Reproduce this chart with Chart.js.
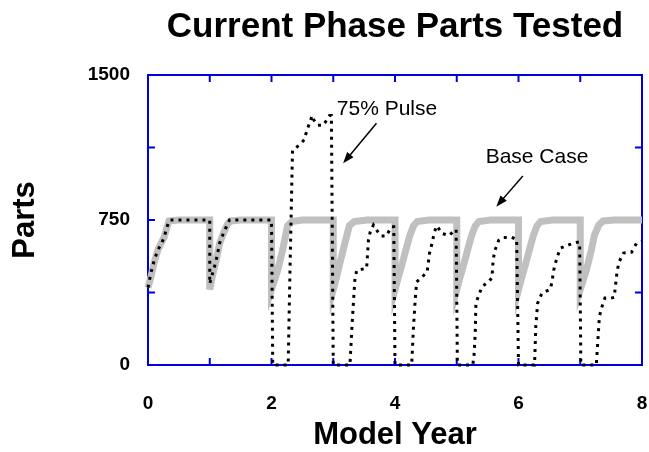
<!DOCTYPE html>
<html>
<head>
<meta charset="utf-8">
<script src="https://cdn.jsdelivr.net/npm/chart.js@4.4.0/dist/chart.umd.min.js"></script>
<style>
body { margin: 0; background: #fff; }
#chart { display: block; }
</style>
</head>
<body>
<canvas id="chart" width="649" height="452"></canvas>
<script>
// Base Case (grey band)
const baseYears = [
  0, 0.05, 0.1, 0.16, 0.22, 0.26, 0.3, 0.34, 0.5, 1,
  1, 1.05, 1.1, 1.16, 1.22, 1.29, 1.34, 1.5, 2,
  2, 2.05, 2.1, 2.18, 2.26, 2.33, 2.5, 3,
  3, 3.05, 3.1, 3.18, 3.26, 3.34, 3.55, 4,
  4, 4.05, 4.1, 4.18, 4.24, 4.3, 4.36, 4.55, 5,
  5, 5.05, 5.1, 5.18, 5.24, 5.3, 5.36, 5.55, 6,
  6, 6.05, 6.1, 6.18, 6.24, 6.3, 6.36, 6.55, 7,
  7, 7.05, 7.1, 7.18, 7.23, 7.3, 7.37, 7.55, 8
];
const baseParts = [
  400, 460, 530, 595, 635, 660, 705, 745, 750, 750,
  390, 470, 535, 630, 680, 730, 745, 750, 750,
  390, 440, 490, 595, 720, 742, 750, 750,
  390, 450, 517, 620, 720, 742, 750, 750,
  390, 450, 505, 600, 670, 720, 742, 750, 750,
  390, 450, 505, 600, 670, 720, 742, 750, 750,
  390, 450, 505, 600, 670, 720, 742, 750, 750,
  390, 440, 491, 595, 672, 724, 745, 750, 750
];

// 75% Pulse (black dotted)
const pulseYears = [
  0, 0.05, 0.1, 0.16, 0.22, 0.26, 0.3, 0.34, 0.36, 1,
  1, 1.05, 1.1, 1.16, 1.22, 1.29, 1.32, 2,
  2.02, 2.27, 2.3, 2.34, 2.46, 2.53, 2.57, 2.62, 2.66, 2.69, 2.75, 2.84, 2.94, 2.97,
  3.0, 3.27, 3.3, 3.33, 3.35, 3.38, 3.54, 3.57, 3.6, 3.65, 3.72, 3.78, 3.86, 3.94, 3.98,
  4.0, 4.27, 4.3, 4.33, 4.35, 4.42, 4.52, 4.56, 4.6, 4.64, 4.68, 4.76, 4.88, 4.97, 4.99,
  5.01, 5.26, 5.28, 5.3, 5.31, 5.35, 5.41, 5.51, 5.57, 5.59, 5.62, 5.68, 5.75, 5.89, 5.97,
  6.0, 6.26, 6.28, 6.31, 6.38, 6.51, 6.54, 6.57, 6.62, 6.68, 6.81, 6.95, 6.99,
  7.01, 7.26, 7.28, 7.31, 7.35, 7.4, 7.5, 7.55, 7.58, 7.6, 7.63, 7.7, 7.83, 7.91, 8
];
const pulseParts = [
  400, 480, 540, 595, 630, 660, 705, 745, 750, 750,
  420, 480, 535, 630, 680, 730, 750, 750,
  0, 0, 500, 1110, 1140, 1165, 1210, 1255, 1290, 1265, 1240, 1240, 1290, 1290,
  0, 0, 180, 340, 440, 490, 500, 645, 690, 724, 690, 667, 667, 715, 715,
  0, 0, 200, 350, 430, 450, 480, 580, 630, 690, 720, 680, 670, 700, 700,
  0, 0, 50, 170, 320, 355, 405, 430, 450, 545, 595, 645, 660, 660, 650,
  0, 0, 200, 320, 372, 390, 425, 490, 553, 605, 621, 635, 635,
  0, 0, 100, 250, 300, 346, 346, 350, 440, 490, 534, 579, 583, 629, 640
];

const xTickLabels = [0, 2, 4, 6, 8];
const yTickLabels = [0, 750, 1500];

function toPoints(xs, ys) {
  return xs.map((x, i) => ({x: x, y: ys[i]}));
}

const fontFamily = "'Liberation Sans', Arial, Helvetica, sans-serif";
const blue = '#0000dd';

// frame round the plot, ticks pointing inward on all four sides
const frame = {
  id: 'frame',
  beforeDatasetsDraw(chart) {
    const {ctx, chartArea: a, scales} = chart;
    ctx.save();
    ctx.strokeStyle = blue;
    ctx.lineWidth = 2;
    ctx.strokeRect(a.left, a.top, a.right - a.left, a.bottom - a.top);
    ctx.beginPath();
    scales.x.ticks.forEach(t => {
      const px = scales.x.getPixelForValue(t.value);
      ctx.moveTo(px, a.bottom); ctx.lineTo(px, a.bottom - 7);
      ctx.moveTo(px, a.top); ctx.lineTo(px, a.top + 7);
    });
    scales.y.ticks.forEach(t => {
      const py = scales.y.getPixelForValue(t.value);
      ctx.moveTo(a.left, py); ctx.lineTo(a.left + 7, py);
      ctx.moveTo(a.right, py); ctx.lineTo(a.right - 7, py);
    });
    ctx.stroke();
    ctx.restore();
  }
};

// text labels with arrows
const notes = {
  id: 'notes',
  afterDatasetsDraw(chart) {
    const {ctx, scales: {x, y}} = chart;
    const items = [
      {text: '75% Pulse', tx: 3.87, ty: 1324, from: [3.70, 1250], to: [3.16, 1043]},
      {text: 'Base Case', tx: 6.30, ty: 1076, from: [6.07, 978], to: [5.64, 819]}
    ];
    ctx.save();
    ctx.font = '21px ' + fontFamily;
    ctx.fillStyle = '#000';
    ctx.strokeStyle = '#000';
    ctx.textAlign = 'center';
    ctx.textBaseline = 'middle';
    items.forEach(n => {
      ctx.fillText(n.text, x.getPixelForValue(n.tx), y.getPixelForValue(n.ty));
      const x1 = x.getPixelForValue(n.from[0]), y1 = y.getPixelForValue(n.from[1]);
      const x2 = x.getPixelForValue(n.to[0]), y2 = y.getPixelForValue(n.to[1]);
      const ang = Math.atan2(y2 - y1, x2 - x1);
      ctx.lineWidth = 1.5;
      ctx.beginPath();
      ctx.moveTo(x1, y1);
      ctx.lineTo(x2 - 6 * Math.cos(ang), y2 - 6 * Math.sin(ang));
      ctx.stroke();
      ctx.beginPath();
      ctx.moveTo(x2, y2);
      ctx.lineTo(x2 - 12 * Math.cos(ang - 0.35), y2 - 12 * Math.sin(ang - 0.35));
      ctx.lineTo(x2 - 12 * Math.cos(ang + 0.35), y2 - 12 * Math.sin(ang + 0.35));
      ctx.closePath();
      ctx.fill();
    });
    ctx.restore();
  }
};

new Chart(document.getElementById('chart'), {
  type: 'scatter',
  data: {
    datasets: [
      {
        label: '75% Pulse',
        data: toPoints(pulseYears, pulseParts),
        showLine: true,
        borderColor: '#000',
        borderWidth: 3,
        borderDash: [3, 5],
        borderCapStyle: 'butt',
        pointRadius: 0,
        tension: 0,
        clip: 6
      },
      {
        label: 'Base Case',
        data: toPoints(baseYears, baseParts),
        showLine: true,
        borderColor: '#c0c0c0',
        borderWidth: 7,
        borderJoinStyle: 'miter',
        pointRadius: 0,
        tension: 0,
        clip: 6
      }
    ]
  },
  options: {
    responsive: false,
    animation: false,
    layout: {padding: {left: 0, right: 7, top: 0, bottom: 0}},
    plugins: {
      legend: {display: false},
      tooltip: {enabled: false},
      title: {
        display: true,
        fullSize: false,
        text: 'Current Phase Parts Tested',
        color: '#000',
        font: {family: fontFamily, size: 35, weight: 'bold', lineHeight: 1.2},
        padding: {top: 6, bottom: 27}
      }
    },
    scales: {
      x: {
        type: 'linear',
        min: 0,
        max: 8,
        grid: {display: false, drawTicks: false},
        border: {display: false},
        ticks: {
          stepSize: 1,
          padding: 27,
          color: '#000',
          maxRotation: 0,
          autoSkip: false,
          font: {family: fontFamily, size: 19, weight: 'bold'},
          callback: v => xTickLabels.includes(v) ? String(v) : ''
        },
        title: {
          display: true,
          text: 'Model Year',
          color: '#000',
          font: {family: fontFamily, size: 31, weight: 'bold', lineHeight: 1.2},
          padding: {top: 4, bottom: -2}
        },
        afterFit: s => { s.height = 87; s.paddingRight = 0; s.paddingLeft = 0; }
      },
      y: {
        min: 0,
        max: 1500,
        grid: {display: false, drawTicks: false},
        border: {display: false},
        ticks: {
          stepSize: 375,
          padding: 18,
          color: '#000',
          autoSkip: false,
          font: {family: fontFamily, size: 19, weight: 'bold'},
          callback: v => yTickLabels.includes(v) ? String(v) : ''
        },
        title: {
          display: true,
          text: 'Parts',
          color: '#000',
          font: {family: fontFamily, size: 31, weight: 'bold', lineHeight: 1.2},
          padding: {top: 7, bottom: 0}
        },
        afterFit: s => { s.width = 148; }
      }
    }
  },
  plugins: [frame, notes]
});
</script>
</body>
</html>
